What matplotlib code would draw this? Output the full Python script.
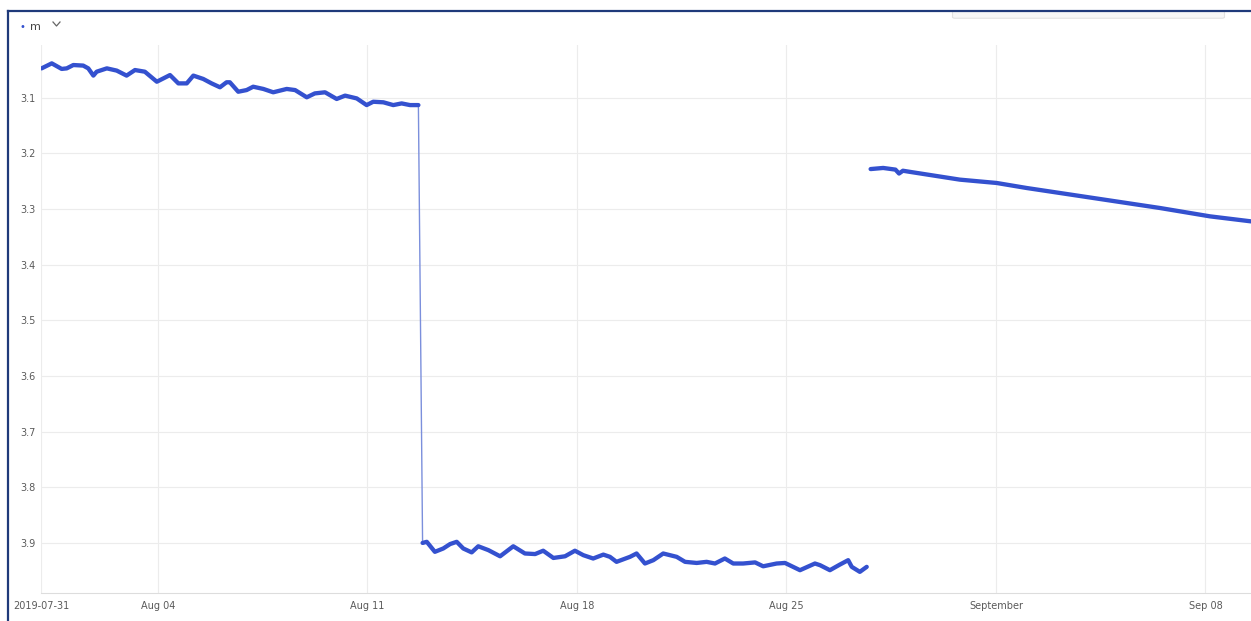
import numpy as np
import pandas as pd
import matplotlib
matplotlib.use("Agg")
import matplotlib.pyplot as plt
from matplotlib.lines import Line2D
from matplotlib.patches import FancyBboxPatch

# axis starts a couple of hours into 2019-07-31
start = pd.Timestamp("2019-07-31") + pd.Timedelta(days=0.094)

# level readings, days after axis start and metres
seg1_days = [0.02, 0.36, 0.69, 0.86, 1.08, 1.41, 1.58, 1.75, 1.86, 2.20, 2.53, 2.86, 3.14,
             3.47, 3.87, 4.31, 4.59, 4.87, 5.09, 5.42, 5.70, 5.98, 6.20, 6.31, 6.59, 6.87,
             7.09, 7.43, 7.76, 8.21, 8.49, 8.88, 9.15, 9.49, 9.88, 10.16, 10.55, 10.88,
             11.10, 11.44, 11.77, 12.05, 12.33, 12.61]
seg1_vals = [3.047, 3.038, 3.048, 3.047, 3.041, 3.042, 3.047, 3.060, 3.053, 3.047, 3.051,
             3.060, 3.050, 3.053, 3.071, 3.059, 3.074, 3.074, 3.060, 3.066, 3.074, 3.081,
             3.072, 3.072, 3.089, 3.086, 3.080, 3.084, 3.090, 3.084, 3.086, 3.099, 3.092,
             3.090, 3.102, 3.096, 3.101, 3.113, 3.107, 3.108, 3.113, 3.110, 3.113, 3.113]

seg2_days = [12.75, 12.89, 13.16, 13.44, 13.67, 13.89, 14.11, 14.39, 14.61, 14.95, 15.34,
             15.78, 16.17, 16.51, 16.78, 17.12, 17.51, 17.84, 18.12, 18.45, 18.79, 19.01,
             19.23, 19.68, 19.90, 20.18, 20.46, 20.79, 21.24, 21.52, 21.91, 22.24, 22.52,
             22.85, 23.13, 23.46, 23.86, 24.13, 24.58, 24.86, 25.36, 25.86, 26.03, 26.36,
             26.69, 26.97, 27.09, 27.36, 27.59]
seg2_vals = [3.900, 3.898, 3.916, 3.910, 3.902, 3.898, 3.910, 3.917, 3.906, 3.913, 3.924,
             3.906, 3.919, 3.920, 3.914, 3.927, 3.924, 3.914, 3.922, 3.928, 3.921, 3.925,
             3.934, 3.925, 3.919, 3.937, 3.931, 3.919, 3.925, 3.934, 3.936, 3.934, 3.937,
             3.928, 3.937, 3.937, 3.935, 3.942, 3.937, 3.936, 3.949, 3.937, 3.940, 3.949,
             3.939, 3.931, 3.943, 3.952, 3.943]

seg3_days = [27.72, 28.14, 28.55, 28.67, 28.80, 29.03, 30.70, 31.93, 32.93, 35.16, 37.39,
             39.06, 40.43]
seg3_vals = [3.228, 3.226, 3.229, 3.236, 3.231, 3.233, 3.247, 3.253, 3.262, 3.280, 3.298,
             3.313, 3.322]

tick_dates = ["2019-08-04", "2019-08-11", "2019-08-18", "2019-08-25",
              "2019-09-01", "2019-09-08"]
tick_labels = ["2019-07-31", "Aug 04", "Aug 11", "Aug 18", "Aug 25", "September", "Sep 08"]
y_ticks = [3.1, 3.2, 3.3, 3.4, 3.5, 3.6, 3.7, 3.8, 3.9]


def to_dates(days):
    return start + pd.to_timedelta(np.array(days), unit="D")


line_c = "#3451cf"
fig = plt.figure(figsize=(12.51, 6.21), dpi=100)
ax = fig.add_axes([41 / 1251, 1 - 593 / 621, 1 - 41 / 1251, (593 - 45) / 621])

# thin connector for the jump
ax.plot(to_dates([seg1_days[-1], seg2_days[0]]), [seg1_vals[-1], seg2_vals[0]],
        color="#7b8fdc", lw=1.0, zorder=2)
for d, v in [(seg1_days, seg1_vals), (seg2_days, seg2_vals), (seg3_days, seg3_vals)]:
    ax.plot(to_dates(d), v, color=line_c, lw=3.1, solid_capstyle="round",
            solid_joinstyle="round", zorder=3)

ax.set_xlim(start, start + pd.Timedelta(days=40.43))
ax.set_ylim(3.99, 3.005)
ax.set_xticks([start] + list(pd.to_datetime(tick_dates)))
ax.set_xticklabels(tick_labels)
ax.set_yticks(y_ticks)
ax.set_yticklabels([f"{v:.1f}" for v in y_ticks])
ax.tick_params(length=0, labelsize=7, labelcolor="#5a5a5a", pad=6)
ax.tick_params(axis="y", pad=4)
ax.grid(True, color="#ececec", lw=0.8)
for s in ["top", "right", "left"]:
    ax.spines[s].set_visible(False)
ax.spines["bottom"].set_color("#dddddd")

# screenshot frame and header bits
fig.add_artist(Line2D([8 / 1251, 1], [1 - 11 / 621] * 2, color="#1f3a7a", lw=1.6))
fig.add_artist(Line2D([8 / 1251] * 2, [0, 1 - 11 / 621], color="#1f3a7a", lw=1.6))
fig.add_artist(FancyBboxPatch((955 / 1251, 1 - 17 / 621), 267 / 1251, 5 / 621,
                              boxstyle="round,pad=0.002", fc="#f7f7f7", ec="#e2e2e2", lw=0.8))
fig.text(22 / 1251, 1 - 27 / 621, "•", color=line_c, fontsize=7, va="center", ha="center")
fig.text(30 / 1251, 1 - 27 / 621, "m", color="#444444", fontsize=8, va="center", ha="left")
fig.add_artist(Line2D([53 / 1251, 56.5 / 1251, 60 / 1251],
                      [1 - 22 / 621, 1 - 26 / 621, 1 - 22 / 621], color="#666666", lw=0.9))

fig.savefig("out.png", dpi=100)
